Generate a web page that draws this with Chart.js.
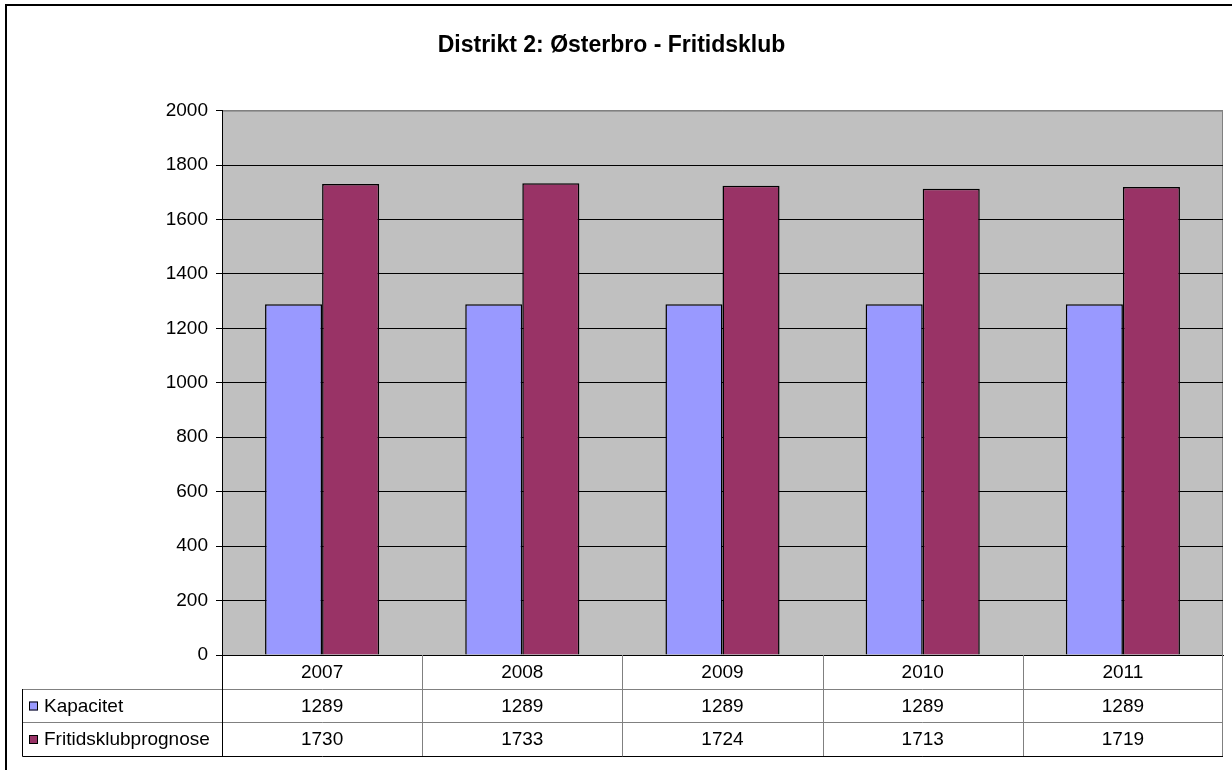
<!DOCTYPE html>
<html>
<head>
<meta charset="utf-8">
<script src="https://cdn.jsdelivr.net/npm/chart.js@4"></script>
<style>
  html, body { margin: 0; padding: 0; background: #fff; }
  canvas { display: block; }
</style>
</head>
<body>
<canvas id="myChart" width="1232" height="770"></canvas>
<script>
const aar = ['2007', '2008', '2009', '2010', '2011'];
const kapacitet = [1289, 1289, 1289, 1289, 1289];
const prognose = [1730, 1733, 1724, 1713, 1719];
const serieNavne = ['Kapacitet', 'Fritidsklubprognose'];
const farver = ['#9999FF', '#993366'];

const skrift = 'Liberation Sans, Arial, sans-serif';

// baggrund, ramme og graa plotflade
const baggrund = {
    id: 'baggrund',
    beforeDraw(chart) {
        const ctx = chart.ctx;
        const a = chart.chartArea;
        ctx.save();
        ctx.fillStyle = '#fff';
        ctx.fillRect(0, 0, chart.width, chart.height);
        ctx.fillStyle = '#C0C0C0';
        ctx.fillRect(a.left, a.top, a.right - a.left, a.bottom - a.top);
        ctx.strokeStyle = '#000';
        ctx.lineWidth = 2;
        ctx.beginPath();
        ctx.moveTo(6, chart.height);
        ctx.lineTo(6, 5);
        ctx.lineTo(chart.width, 5);
        ctx.stroke();
        // graa kant oeverst og til hoejre
        ctx.lineWidth = 1;
        ctx.strokeStyle = '#808080';
        ctx.beginPath();
        ctx.moveTo(a.left, a.top + 0.5);
        ctx.lineTo(a.right - 0.5, a.top + 0.5);
        ctx.lineTo(a.right - 0.5, a.bottom);
        ctx.stroke();
        ctx.restore();
    }
};

// datatabel under diagrammet
const datatabel = {
    id: 'datatabel',
    afterDraw(chart) {
        const ctx = chart.ctx;
        const x = chart.scales.x;
        const a = chart.chartArea;
        const top = a.bottom;
        const r1 = top + 34, r2 = r1 + 33, r3 = r2 + 34;
        const venstre = 22;
        const halv = (x.getPixelForValue(1) - x.getPixelForValue(0)) / 2;

        ctx.save();
        ctx.lineWidth = 1;
        ctx.strokeStyle = '#808080';
        ctx.beginPath();
        [r1, r2].forEach(y => {
            ctx.moveTo(venstre, y + 0.5);
            ctx.lineTo(a.right, y + 0.5);
        });
        for (let i = 1; i <= aar.length; i++) {
            const px = Math.min(Math.round(x.getPixelForValue(i) - halv) + 0.5, a.right - 0.5);
            ctx.moveTo(px, top);
            ctx.lineTo(px, r3);
        }
        ctx.stroke();

        ctx.strokeStyle = '#000';
        ctx.beginPath();
        ctx.moveTo(a.left + 0.5, top);
        ctx.lineTo(a.left + 0.5, r3);
        ctx.moveTo(venstre + 0.5, r1);
        ctx.lineTo(venstre + 0.5, r3 + 0.5);
        ctx.lineTo(a.right, r3 + 0.5);
        ctx.stroke();

        ctx.fillStyle = '#000';
        ctx.font = '19px ' + skrift;
        ctx.textAlign = 'center';
        ctx.textBaseline = 'middle';
        const data = [kapacitet, prognose];
        aar.forEach((lbl, i) => {
            const cx = x.getPixelForValue(i);
            ctx.fillText(lbl, cx, (top + r1) / 2 + 1);
            ctx.fillText(String(data[0][i]), cx, (r1 + r2) / 2 + 1);
            ctx.fillText(String(data[1][i]), cx, (r2 + r3) / 2 + 1);
        });

        ctx.textAlign = 'left';
        [[r1, r2], [r2, r3]].forEach((r, k) => {
            const cy = (r[0] + r[1]) / 2;
            ctx.fillStyle = farver[k];
            ctx.fillRect(29, cy - 4, 9, 9);
            ctx.strokeStyle = '#000';
            ctx.strokeRect(29.5, cy - 3.5, 8, 8);
            ctx.fillStyle = '#000';
            ctx.fillText(serieNavne[k], 44, cy + 1);
        });
        ctx.restore();
    }
};

const ctx = document.getElementById('myChart').getContext('2d');
const myChart = new Chart(ctx, {
    type: 'bar',
    data: {
        labels: aar,
        datasets: [{
            label: serieNavne[0],
            data: kapacitet,
            backgroundColor: farver[0],
            borderColor: '#000',
            borderWidth: 1.5
        }, {
            label: serieNavne[1],
            data: prognose,
            backgroundColor: farver[1],
            borderColor: '#000',
            borderWidth: 1.5
        }]
    },
    options: {
        responsive: false,
        animation: false,
        categoryPercentage: 0.57,
        barPercentage: 1,
        layout: { padding: { left: 0, right: 9, top: 0, bottom: 115 } },
        plugins: {
            legend: { display: false },
            tooltip: { enabled: false },
            title: {
                display: true,
                text: 'Distrikt 2: Østerbro - Fritidsklub',
                color: '#000',
                font: { family: skrift, size: 23, weight: 'bold' },
                padding: { top: 32, bottom: 51 }
            }
        },
        scales: {
            x: {
                ticks: { display: false },
                grid: { display: false, drawTicks: false },
                border: { color: '#000', width: 1 },
                afterFit(scale) { scale.height = 0; }
            },
            y: {
                min: 0,
                max: 2000,
                ticks: {
                    stepSize: 200,
                    color: '#000',
                    padding: 8,
                    font: { family: skrift, size: 19 },
                    callback: v => String(v)
                },
                grid: {
                    color: c => (c.tick && c.tick.value === 2000) ? '#808080' : '#000',
                    tickColor: '#000',
                    tickLength: 6,
                    lineWidth: 1
                },
                border: { color: '#000', width: 1 },
                afterFit(scale) { scale.width = 222; }
            }
        }
    },
    plugins: [baggrund, datatabel]
});
</script>
</body>
</html>
